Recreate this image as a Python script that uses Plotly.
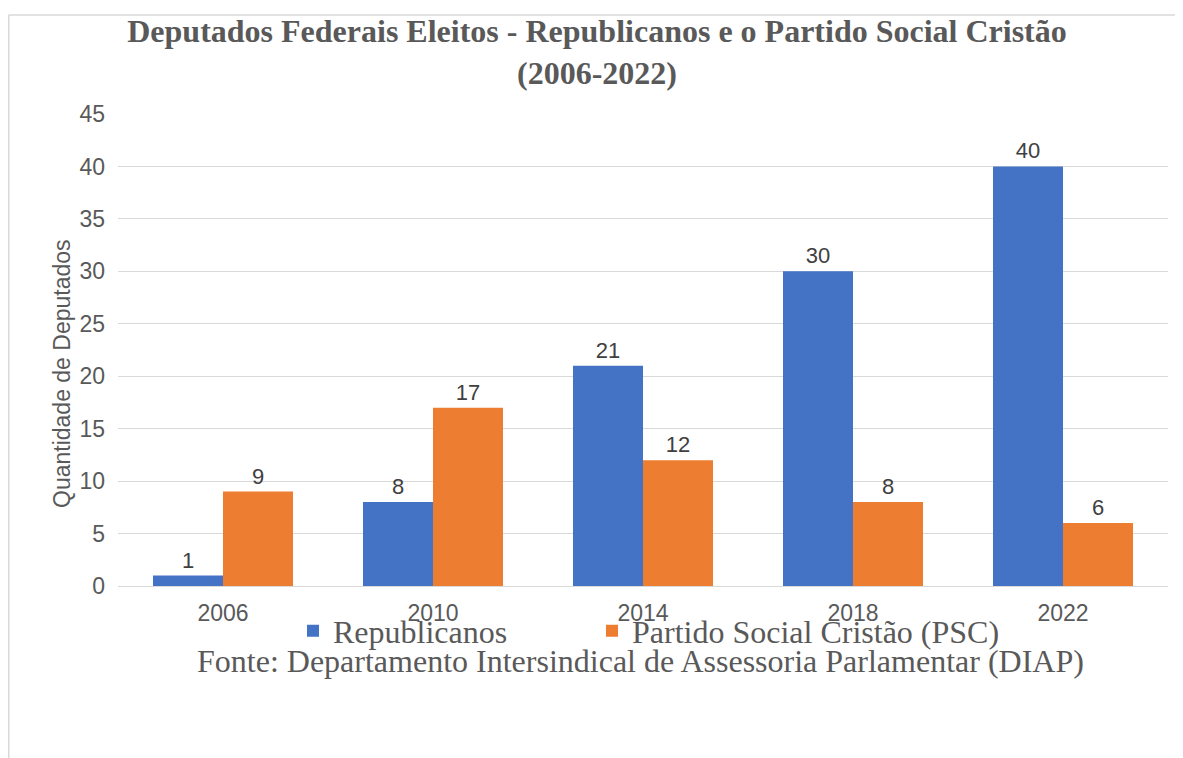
import plotly.graph_objects as go

anos = ["2006", "2010", "2014", "2018", "2022"]
republicanos = [1, 8, 21, 30, 40]
psc = [9, 17, 12, 8, 6]
y_ticks = [0, 5, 10, 15, 20, 25, 30, 35, 40, 45]

# page has an 8px body margin: figure drawn at (8, 8) of the 1183x758 window
OX, OY = 8, 8
W, H = 1183 - OX, 758 - OY
L, R, T = 118 - OX, 15, 114 - OY
B = H - (586 - OY)
PW, PH = W - L - R, H - T - B

def px_x(x):  # screen px -> paper
    return (x - OX - L) / PW

def px_y(y):
    return (H - B - (y - OY)) / PH

fig = go.Figure()
fig.add_trace(go.Bar(
    x=anos, y=republicanos, name="Republicanos",
    marker=dict(color="#4472C4", line=dict(width=0)),
    text=republicanos, textposition="outside",
    textfont=dict(family="Liberation Sans", size=22, color="#404040"),
    cliponaxis=False, legend="legend", showlegend=True,
))
fig.add_trace(go.Bar(
    x=anos, y=psc, name="Partido Social Cristão (PSC)",
    marker=dict(color="#ED7D31", line=dict(width=0)),
    text=psc, textposition="outside",
    textfont=dict(family="Liberation Sans", size=22, color="#404040"),
    cliponaxis=False, legend="legend2", showlegend=True,
))

leg_font = dict(family="Liberation Serif", size=32, color="#595959")

fig.update_layout(
    width=W, height=H,
    margin=dict(l=L, r=R, t=T, b=B),
    paper_bgcolor="white", plot_bgcolor="white",
    showlegend=True,
    barmode="group", bargap=1/3, bargroupgap=0,
    title=dict(
        text="<b>Deputados Federais Eleitos - Republicanos e o Partido Social Cristão<br>(2006-2022)</b>",
        font=dict(family="Liberation Serif", size=32, color="#595959"),
        x=(597 - OX) / W, xref="container", xanchor="center",
        y=1 - (42 - OY) / H, yref="container", yanchor="middle",
    ),
    xaxis=dict(
        showgrid=False, showline=True, linecolor="#d9d9d9", linewidth=1,
        ticks="", tickfont=dict(family="Liberation Sans", size=23, color="#595959"),
        ticklabelstandoff=6,
    ),
    yaxis=dict(
        range=[0, 45], tickvals=y_ticks,
        showgrid=True, gridcolor="#d9d9d9", gridwidth=1,
        zeroline=False, showline=False, ticks="",
        tickfont=dict(family="Liberation Sans", size=23, color="#595959"),
        ticklabelstandoff=12,
    ),
    legend=dict(
        orientation="h", x=px_x(293), xanchor="left",
        y=px_y(631), yanchor="middle",
        font=leg_font, bgcolor="rgba(0,0,0,0)", itemclick=False,
    ),
    legend2=dict(
        orientation="h", x=px_x(592), xanchor="left",
        y=px_y(631), yanchor="middle",
        font=leg_font, bgcolor="rgba(0,0,0,0)", itemclick=False,
    ),
    annotations=[
        dict(
            text="Fonte: Departamento Intersindical de Assessoria Parlamentar (DIAP)",
            xref="paper", yref="paper", x=px_x(640), y=px_y(661),
            xanchor="center", yanchor="middle", showarrow=False,
            font=dict(family="Liberation Serif", size=32, color="#595959"),
        ),
        dict(
            text="Quantidade de Deputados", textangle=-90,
            xref="paper", yref="paper", x=px_x(62), y=px_y(374),
            xanchor="center", yanchor="middle", showarrow=False,
            font=dict(family="Liberation Sans", size=23, color="#595959"),
        ),
    ],
    shapes=[
        dict(type="line", xref="paper", yref="paper",
             x0=px_x(8.75), x1=px_x(1183), y0=px_y(15), y1=px_y(15),
             line=dict(color="#d9d9d9", width=1.5)),
        dict(type="line", xref="paper", yref="paper",
             x0=px_x(8.75), x1=px_x(8.75), y0=px_y(15), y1=px_y(758),
             line=dict(color="#d9d9d9", width=1.5)),
    ],
)

fig.write_html("out.html")
